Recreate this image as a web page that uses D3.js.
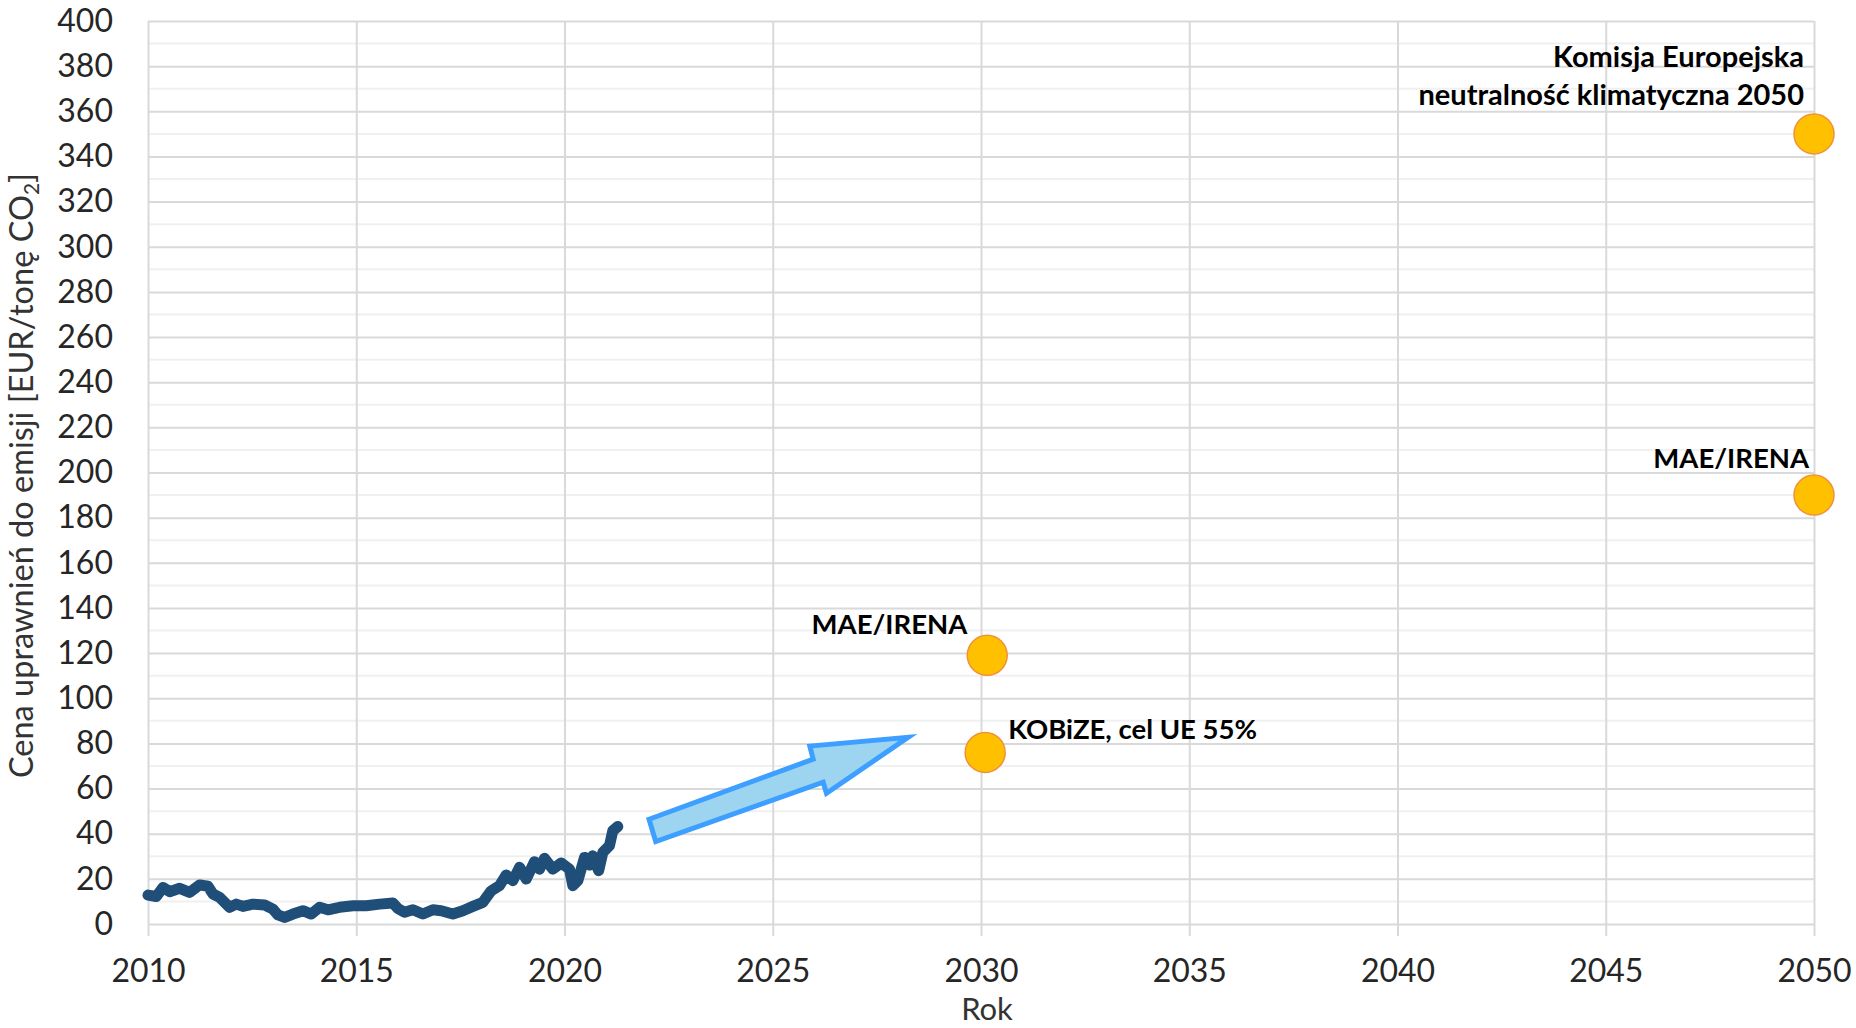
<!DOCTYPE html>
<html>
<head>
<meta charset="utf-8">
<script src="https://cdn.jsdelivr.net/npm/d3@7"></script>
<style>
  body { margin: 0; background: #fff; }
  svg { display: block; font-family: Lato, "Open Sans", sans-serif; }
</style>
</head>
<body>
<div id="chart"></div>
<script>
// historical EUA price (year, EUR/t)
const priceYears = [2010.0, 2010.2, 2010.36, 2010.52, 2010.76, 2011.0, 2011.24, 2011.44, 2011.56, 2011.72,
  2011.96, 2012.12, 2012.28, 2012.52, 2012.8, 2013.0, 2013.12, 2013.28, 2013.48, 2013.72,
  2013.92, 2014.12, 2014.32, 2014.6, 2014.92, 2015.24, 2015.56, 2015.88, 2016.0, 2016.16,
  2016.36, 2016.6, 2016.84, 2017.04, 2017.32, 2017.56, 2017.8, 2018.04, 2018.24, 2018.44,
  2018.6, 2018.76, 2018.92, 2019.08, 2019.28, 2019.4, 2019.52, 2019.72, 2019.92, 2020.12,
  2020.2, 2020.32, 2020.48, 2020.6, 2020.68, 2020.82, 2020.92, 2021.08, 2021.16, 2021.28];
const priceValues = [12.8, 12.2, 16.2, 14.3, 15.8, 14.0, 17.3, 16.7, 13.3, 11.8,
  7.4, 8.8, 7.8, 8.8, 8.4, 6.6, 4.0, 2.9, 4.4, 5.9,
  4.4, 7.4, 6.3, 7.4, 8.1, 8.1, 8.8, 9.3, 6.9, 5.2,
  6.3, 4.4, 6.3, 5.9, 4.4, 5.9, 7.8, 9.6, 14.7, 17.0,
  21.7, 19.2, 25.1, 19.9, 27.6, 24.3, 29.1, 24.3, 27.0, 24.3,
  17.0, 19.2, 29.5, 26.1, 30.2, 23.6, 31.7, 34.7, 41.3, 43.2];

// forecasts
const forecastYears = [2030.15, 2030.1, 2050, 2050];
const forecastValues = [119, 76, 190, 350];
const forecastLabels = [
  ["MAE/IRENA"],
  ["KOBiZE, cel UE 55%"],
  ["MAE/IRENA"],
  ["Komisja Europejska", "neutralność klimatyczna 2050"]
];

// block arrow outline in data units
const arrowYears = [2022.03, 2025.97, 2025.89, 2028.25, 2026.29, 2026.21, 2022.19];
const arrowValues = [46.4, 73.0, 78.8, 82.7, 57.9, 62.8, 36.5];

const xTicks = [2010, 2015, 2020, 2025, 2030, 2035, 2040, 2045, 2050];
const yTicks = d3.range(0, 401, 20);
const yMinor = d3.range(10, 400, 20);

// label placement relative to its point: [dx, dy, anchor]
const labelPlace = [[-20, -21, 'end'], [23, -13, 'start'], [-5, -27, 'end'], [-10, -67, 'end']];

const W = 1856, H = 1028;
const x = d3.scaleLinear().domain([2010, 2050]).range([148, 1814]);
const y = d3.scaleLinear().domain([0, 400]).range([924, 21]);

const svg = d3.select('#chart').append('svg')
    .attr('width', W)
    .attr('height', H);

// minor grid
svg.append('g')
    .selectAll('line')
    .data(yMinor)
    .join('line')
    .attr('x1', x(2010)).attr('x2', x(2050))
    .attr('y1', d => y(d)).attr('y2', d => y(d))
    .attr('stroke', '#f0f0f0')
    .attr('stroke-width', 2);

// major grid + y labels
const yAxis = svg.append('g')
    .attr('transform', `translate(${x(2010)},0)`)
    .call(d3.axisLeft(y).tickValues(yTicks).tickSize(-(x(2050) - x(2010))).tickPadding(35));
yAxis.select('.domain').remove();
yAxis.selectAll('.tick line').attr('stroke', '#d9d9d9').attr('stroke-width', 2);
yAxis.selectAll('.tick text')
    .attr('font-size', 32)
    .attr('font-family', 'Lato, sans-serif')
    .attr('fill', '#262626');

const xAxis = svg.append('g')
    .attr('transform', `translate(0,${y(0)})`)
    .call(d3.axisBottom(x).tickValues(xTicks).tickFormat(d3.format('d'))
        .tickSize(-(y(0) - y(400))).tickPadding(35));
xAxis.select('.domain').remove();
xAxis.selectAll('.tick line')
    .attr('stroke', '#d9d9d9').attr('stroke-width', 2)
    .attr('y1', 12);
xAxis.selectAll('.tick text')
    .attr('font-size', 32)
    .attr('font-family', 'Lato, sans-serif')
    .attr('fill', '#262626');

// axis titles
svg.append('text')
    .attr('x', (x(2010) + x(2050)) / 2 + 6)
    .attr('y', 1020)
    .attr('text-anchor', 'middle')
    .attr('font-size', 31)
    .attr('fill', '#333')
    .text('Rok');

const yTitle = svg.append('text')
    .attr('transform', `translate(33,${(y(0) + y(400)) / 2 + 3}) rotate(-90)`)
    .attr('text-anchor', 'middle')
    .attr('font-size', 32.5)
    .attr('fill', '#333');
yTitle.append('tspan').text('Cena uprawnień do emisji [EUR/tonę CO');
yTitle.append('tspan').attr('font-size', 21).attr('dy', 6).text('2');
yTitle.append('tspan').attr('dy', -6).text(']');

// price line
const priceData = priceYears.map((yr, i) => ({ year: yr, value: priceValues[i] }));
svg.append('path')
    .datum(priceData)
    .attr('fill', 'none')
    .attr('stroke', '#1f4e79')
    .attr('stroke-width', 11)
    .attr('stroke-linejoin', 'round')
    .attr('stroke-linecap', 'round')
    .attr('d', d3.line().x(d => x(d.year)).y(d => y(d.value)));

// arrow
const arrowPts = arrowYears.map((yr, i) => [x(yr), y(arrowValues[i])]);
svg.append('path')
    .attr('d', d3.line()(arrowPts) + 'Z')
    .attr('fill', '#9dd4f0')
    .attr('stroke', '#3d9fff')
    .attr('stroke-width', 5)
    .attr('stroke-linejoin', 'miter');

// forecast points
const forecast = forecastYears.map((yr, i) => ({ year: yr, value: forecastValues[i], label: forecastLabels[i], place: labelPlace[i] }));
svg.append('g')
    .selectAll('circle')
    .data(forecast)
    .join('circle')
    .attr('cx', d => x(d.year))
    .attr('cy', d => y(d.value))
    .attr('r', 20)
    .attr('fill', '#ffc000')
    .attr('stroke', '#f0913a')
    .attr('stroke-width', 1.5);

const labels = svg.append('g')
    .selectAll('text')
    .data(forecast)
    .join('text')
    .attr('x', d => x(d.year) + d.place[0])
    .attr('y', d => y(d.value) + d.place[1])
    .attr('text-anchor', d => d.place[2])
    .attr('font-size', d => d.label.length > 1 ? 29 : 27.5)
    .attr('font-weight', 'bold')
    .attr('fill', '#000');
labels.each(function(d) {
    const t = d3.select(this);
    d.label.forEach((line, i) => {
        t.append('tspan')
            .attr('x', x(d.year) + d.place[0])
            .attr('dy', i === 0 ? 0 : 38)
            .text(line);
    });
});
</script>
</body>
</html>
